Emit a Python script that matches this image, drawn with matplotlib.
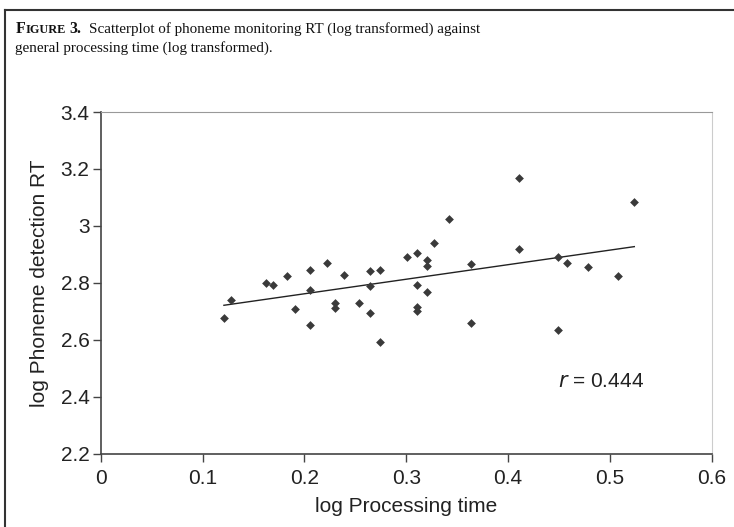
import numpy as np
import matplotlib.pyplot as plt

proc_time = [0.121, 0.128, 0.162, 0.169, 0.183, 0.191, 0.206, 0.206, 0.206,
             0.222, 0.230, 0.230, 0.239, 0.254, 0.264, 0.264, 0.264, 0.274,
             0.274, 0.301, 0.311, 0.311, 0.311, 0.311, 0.320, 0.320, 0.320,
             0.327, 0.342, 0.364, 0.364, 0.411, 0.411, 0.4495, 0.4495, 0.458,
             0.479, 0.508, 0.524]
phoneme_rt = [2.677, 2.741, 2.799, 2.794, 2.825, 2.708, 2.846, 2.776, 2.652,
              2.871, 2.729, 2.711, 2.828, 2.730, 2.841, 2.789, 2.695, 2.846,
              2.592, 2.890, 2.905, 2.794, 2.717, 2.701, 2.881, 2.860, 2.768,
              2.940, 3.025, 2.868, 2.661, 3.168, 2.918, 2.890, 2.634, 2.871,
              2.857, 2.823, 3.084]

x_ticks = [0, 0.1, 0.2, 0.3, 0.4, 0.5, 0.6]
x_tick_labels = ["0", "0.1", "0.2", "0.3", "0.4", "0.5", "0.6"]
y_ticks = [2.2, 2.4, 2.6, 2.8, 3.0, 3.2, 3.4]
y_tick_labels = ["2.2", "2.4", "2.6", "2.8", "3", "3.2", "3.4"]

W, H = 734, 527
sans = ["Liberation Sans", "DejaVu Sans"]
serif = ["Liberation Serif", "DejaVu Serif"]

fig = plt.figure(figsize=(W / 100, H / 100), dpi=100)

# plot area in pixels: x 100.7..711.7, y 112..454
ax = fig.add_axes([100.7 / W, 1 - 454 / H, 611 / W, 342 / H])
ax.scatter(proc_time, phoneme_rt, marker="D", s=20, color="#3a3a3a",
           linewidths=0, zorder=3)

# least squares trend line
slope, intercept = np.polyfit(proc_time, phoneme_rt, 1)
xs = np.array([min(proc_time), max(proc_time)])
ax.plot(xs, slope * xs + intercept, color="#222222", lw=1.0, zorder=2)

ax.set_xlim(0, 0.6)
ax.set_ylim(2.2, 3.4)
ax.set_xticks(x_ticks)
ax.set_xticklabels(x_tick_labels, family=sans, fontsize=15, color="#222222")
ax.set_yticks(y_ticks)
ax.set_yticklabels(y_tick_labels, family=sans, fontsize=15, color="#222222")
ax.tick_params(axis="x", direction="out", length=6, width=1, color="#444444", pad=5)
ax.tick_params(axis="y", direction="out", length=6, width=1, color="#444444", pad=2)

for side in ["left", "bottom"]:
    ax.spines[side].set_color("#444444")
    ax.spines[side].set_linewidth(1.2)
ax.spines["top"].set_color("#999999")
ax.spines["right"].set_color("#cccccc")

ax.set_xlabel("log Processing time", family=sans, fontsize=15,
              color="#222222", labelpad=6)
ax.set_ylabel("log Phoneme detection RT", family=sans, fontsize=15,
              color="#222222", labelpad=8)

ax.text(0.449, 2.453, "$r$ = 0.444", family=sans, fontsize=15,
        color="#222222", va="center", ha="left")

# outer frame (top and left edges visible)
fig.add_artist(plt.Line2D([5 / W, 5 / W], [0, 1 - 10 / H], transform=fig.transFigure,
                          color="#333333", lw=1.5))
fig.add_artist(plt.Line2D([5 / W, 1], [1 - 10 / H, 1 - 10 / H], transform=fig.transFigure,
                          color="#333333", lw=1.5))

# caption with small caps label
renderer = fig.canvas.get_renderer()


def put(x, y, s, **kw):
    t = fig.text(x / W, 1 - y / H, s, va="baseline", ha="left",
                 family=serif, color="#111111", **kw)
    return x + t.get_window_extent(renderer).width


x = put(16, 33, "F", fontsize=11.5, weight="bold")
x = put(x, 33, "IGURE", fontsize=8.8, weight="bold")
x = put(x + 3, 33, "3.", fontsize=11.5, weight="bold")
put(x + 8, 33, "Scatterplot of phoneme monitoring RT (log transformed) against",
    fontsize=10.9)
put(15, 52, "general processing time (log transformed).", fontsize=10.9)

fig.savefig("out.png", dpi=100)
